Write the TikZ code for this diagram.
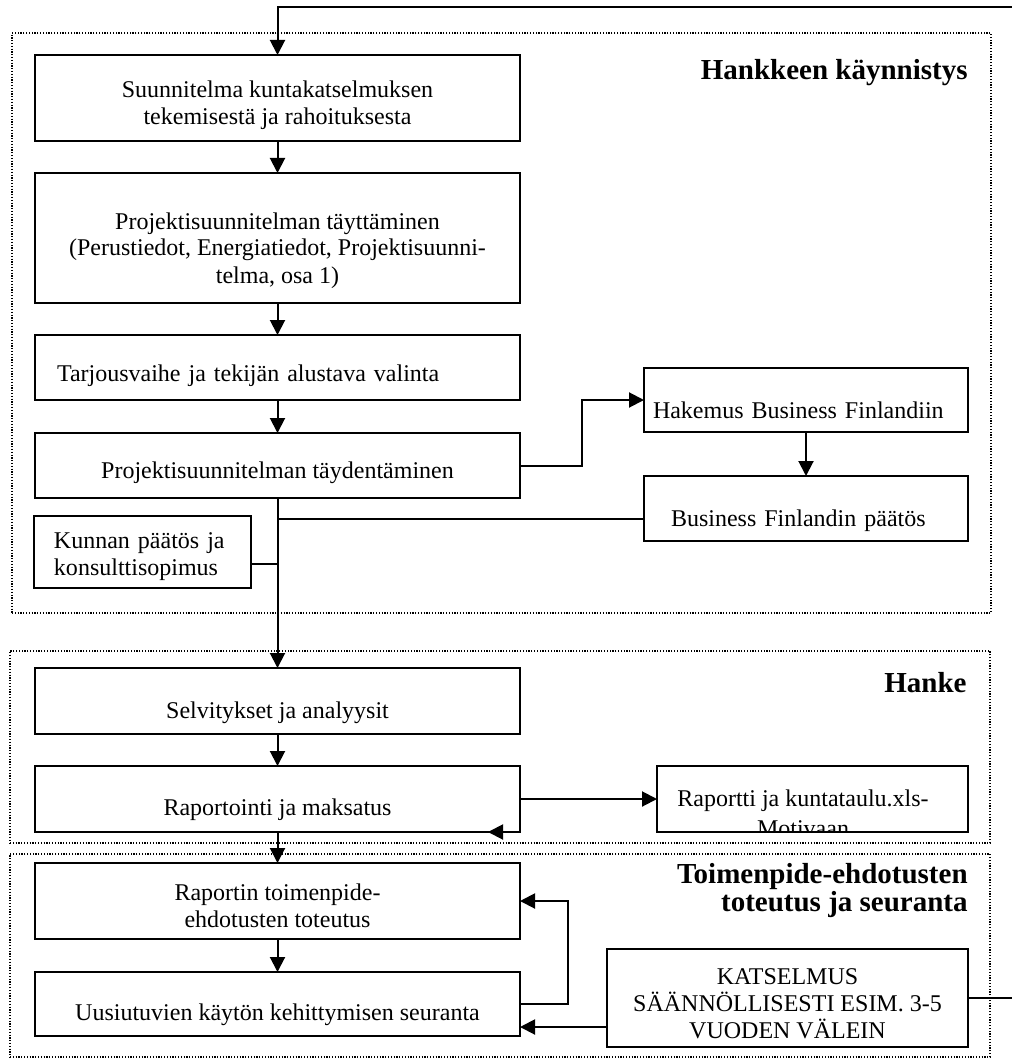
\documentclass[tikz,border=0pt]{standalone}
\usepackage{fontspec}
\setmainfont{Liberation Serif}
\usetikzlibrary{arrows.meta, positioning}

\newcommand\leipa{\fontsize{12}{13.5}\selectfont}
\newcommand\otsikkofont{\fontsize{14.5}{12.5}\selectfont\bfseries}

\begin{document}
\begin{tikzpicture}[
        x=1pt, y=1pt,
        laatikko/.style={rectangle, draw, line width=1pt, inner xsep=4pt, inner ysep=0pt, outer sep=0pt, align=center, font=\leipa},
        sarake/.style={laatikko, minimum width=242.5pt},
        vasen/.style 2 args={align=left, inner xsep=#1, text width=#2},
        korkeus/.style 2 args={text height=#1, text depth=#2},
        kehys/.style={rectangle, draw, line width=0.6pt, dash pattern=on 0.6pt off 0.8pt, inner sep=0pt, outer sep=0pt},
        otsikko/.style={font=\otsikkofont, align=right, inner sep=0pt},
        flow/.style={-{Triangle[length=7.5pt, width=7.5pt]}, line width=1pt},
        viiva/.style={line width=1pt}
    ]
    \useasboundingbox (0,0) rectangle (505.5,-529.5);

    % Vaiheiden kehykset
    \node[kehys, anchor=north west, minimum width=489.5pt, minimum height=290pt] (kaynnistys) at (6,-16.5) {};
    \node[kehys, anchor=north west, minimum width=490pt, minimum height=96pt] (hanke) at (5,-325.5) {};
    \node[kehys, anchor=north west, minimum width=490pt, minimum height=101.5pt] (seuranta) at (5,-427) {};

    % Otsikot
    \node[otsikko, anchor=base east] (kaynnistys-otsikko) at (484,-40) {Hankkeen käynnistys};
    \node[otsikko, anchor=base east] (hanke-otsikko) at (483.5,-346) {Hanke};
    \node[otsikko, anchor=base east] (seuranta-otsikko) at (484,-455.9) {Toimenpide-ehdotusten\\toteutus ja seuranta};

    % Hankkeen käynnistys
    \node[sarake, korkeus={34.7pt}{8.3pt}, anchor=north west] (suunnitelma) at (17.5,-27.5) {Suunnitelma kuntakatselmuksen\\tekemisestä ja rahoituksesta};
    \node[sarake, korkeus={55pt}{10pt}, below=16pt of suunnitelma] (taytto) {Projektisuunnitelman täyttäminen\\(Perustiedot, Energiatiedot, Projektisuunni-\\telma, osa 1)};
    \node[sarake, korkeus={23.3pt}{9.2pt}, vasen={11pt}{220.5pt}, below=16pt of taytto] (tarjous) {Tarjousvaihe ja tekijän alustava valinta};
    \node[sarake, korkeus={22.7pt}{9.8pt}, below=16.5pt of tarjous] (taydennys) {Projektisuunnitelman täydentäminen};
    \node[laatikko, korkeus={25pt}{7pt}, vasen={4.5pt}{153pt}, anchor=north west] (hakemus) at (322,-184) {Hakemus Business Finlandiin};
    \node[laatikko, korkeus={25.3pt}{7.2pt}, vasen={13.5pt}{135pt}, below=22pt of hakemus] (bf-paatos) {Business Finlandin päätös};
    \node[laatikko, korkeus={16.2pt}{19.8pt}, vasen={10pt}{88.5pt}, anchor=north west] (kunta-paatos) at (17,-258) {Kunnan päätös ja\\konsulttisopimus};

    % Hanke
    \node[sarake, korkeus={25.2pt}{7.8pt}, below=85pt of taydennys] (selvitykset) {Selvitykset ja analyysit};
    \node[sarake, korkeus={24.5pt}{8.5pt}, below=16pt of selvitykset] (raportointi) {Raportointi ja maksatus};
    \node[laatikko, minimum width=155.5pt, minimum height=33pt, inner sep=0pt, right=68.5pt of raportointi, path picture={
        \clip ([yshift=0.5pt]path picture bounding box.south west) rectangle (path picture bounding box.north east);
        \node[font=\leipa, align=center, inner sep=0pt, anchor=base] (raportti-teksti) at ([xshift=-4.75pt, yshift=-35pt]path picture bounding box.north) {Raportti ja kuntataulu.xls-\\[1.5pt]Motivaan};
    }] (raportti) {};

    % Toteutus ja seuranta
    \node[sarake, korkeus={32pt}{6pt}, below=15.5pt of raportointi] (toteutus) {Raportin toimenpide-\\ehdotusten toteutus};
    \node[sarake, korkeus={24pt}{8pt}, below=16.5pt of toteutus] (kehitys) {Uusiutuvien käytön kehittymisen seuranta};
    \node[laatikko, minimum width=180.5pt, minimum height=49pt, inner sep=0pt, anchor=north west, path picture={
        \clip ([yshift=3.9pt]path picture bounding box.south west) rectangle (path picture bounding box.north east);
        \node[font=\leipa, align=center, inner sep=0pt, anchor=base] (katselmus-teksti) at ([yshift=-44.7pt]path picture bounding box.north) {KATSELMUS\\SÄÄNNÖLLISESTI ESIM. 3-5\\VUODEN VÄLEIN};
    }] (katselmus) at (303.5,-474.5) {};

    % Nuolet
    \coordinate (paluu) at (525,-3.5);
    \draw[flow] (katselmus.east) -| (paluu) -| (suunnitelma.north);
    \draw[flow] (suunnitelma) -- (taytto);
    \draw[flow] (taytto) -- (tarjous);
    \draw[flow] (tarjous) -- (taydennys);
    \draw[flow] (taydennys.east) -- ++(31,0) |- (hakemus.west);
    \draw[flow] (hakemus) -- (bf-paatos);
    \draw[viiva] ([yshift=-5.25pt]bf-paatos.west) -- ([yshift=-5.25pt]bf-paatos.west -| taydennys.south);
    \draw[viiva] ([yshift=-6pt]kunta-paatos.east) -- ([yshift=-6pt]kunta-paatos.east -| taydennys.south);
    \draw[flow] (taydennys) -- (selvitykset);
    \draw[flow] (selvitykset) -- (raportointi);
    \draw[flow] (raportointi) -- (raportti);
    \draw[flow] (raportointi.south east) -- ([xshift=-16pt]raportointi.south east);
    \draw[flow] (raportointi) -- (toteutus);
    \draw[flow] (toteutus) -- (kehitys);
    \draw[flow] (kehitys.east) -- ++(24,0) |- (toteutus.east);
    \draw[flow] ([yshift=-14.5pt]katselmus.west) -- ([yshift=-14.5pt]katselmus.west -| kehitys.east);

\end{tikzpicture}
\end{document}
